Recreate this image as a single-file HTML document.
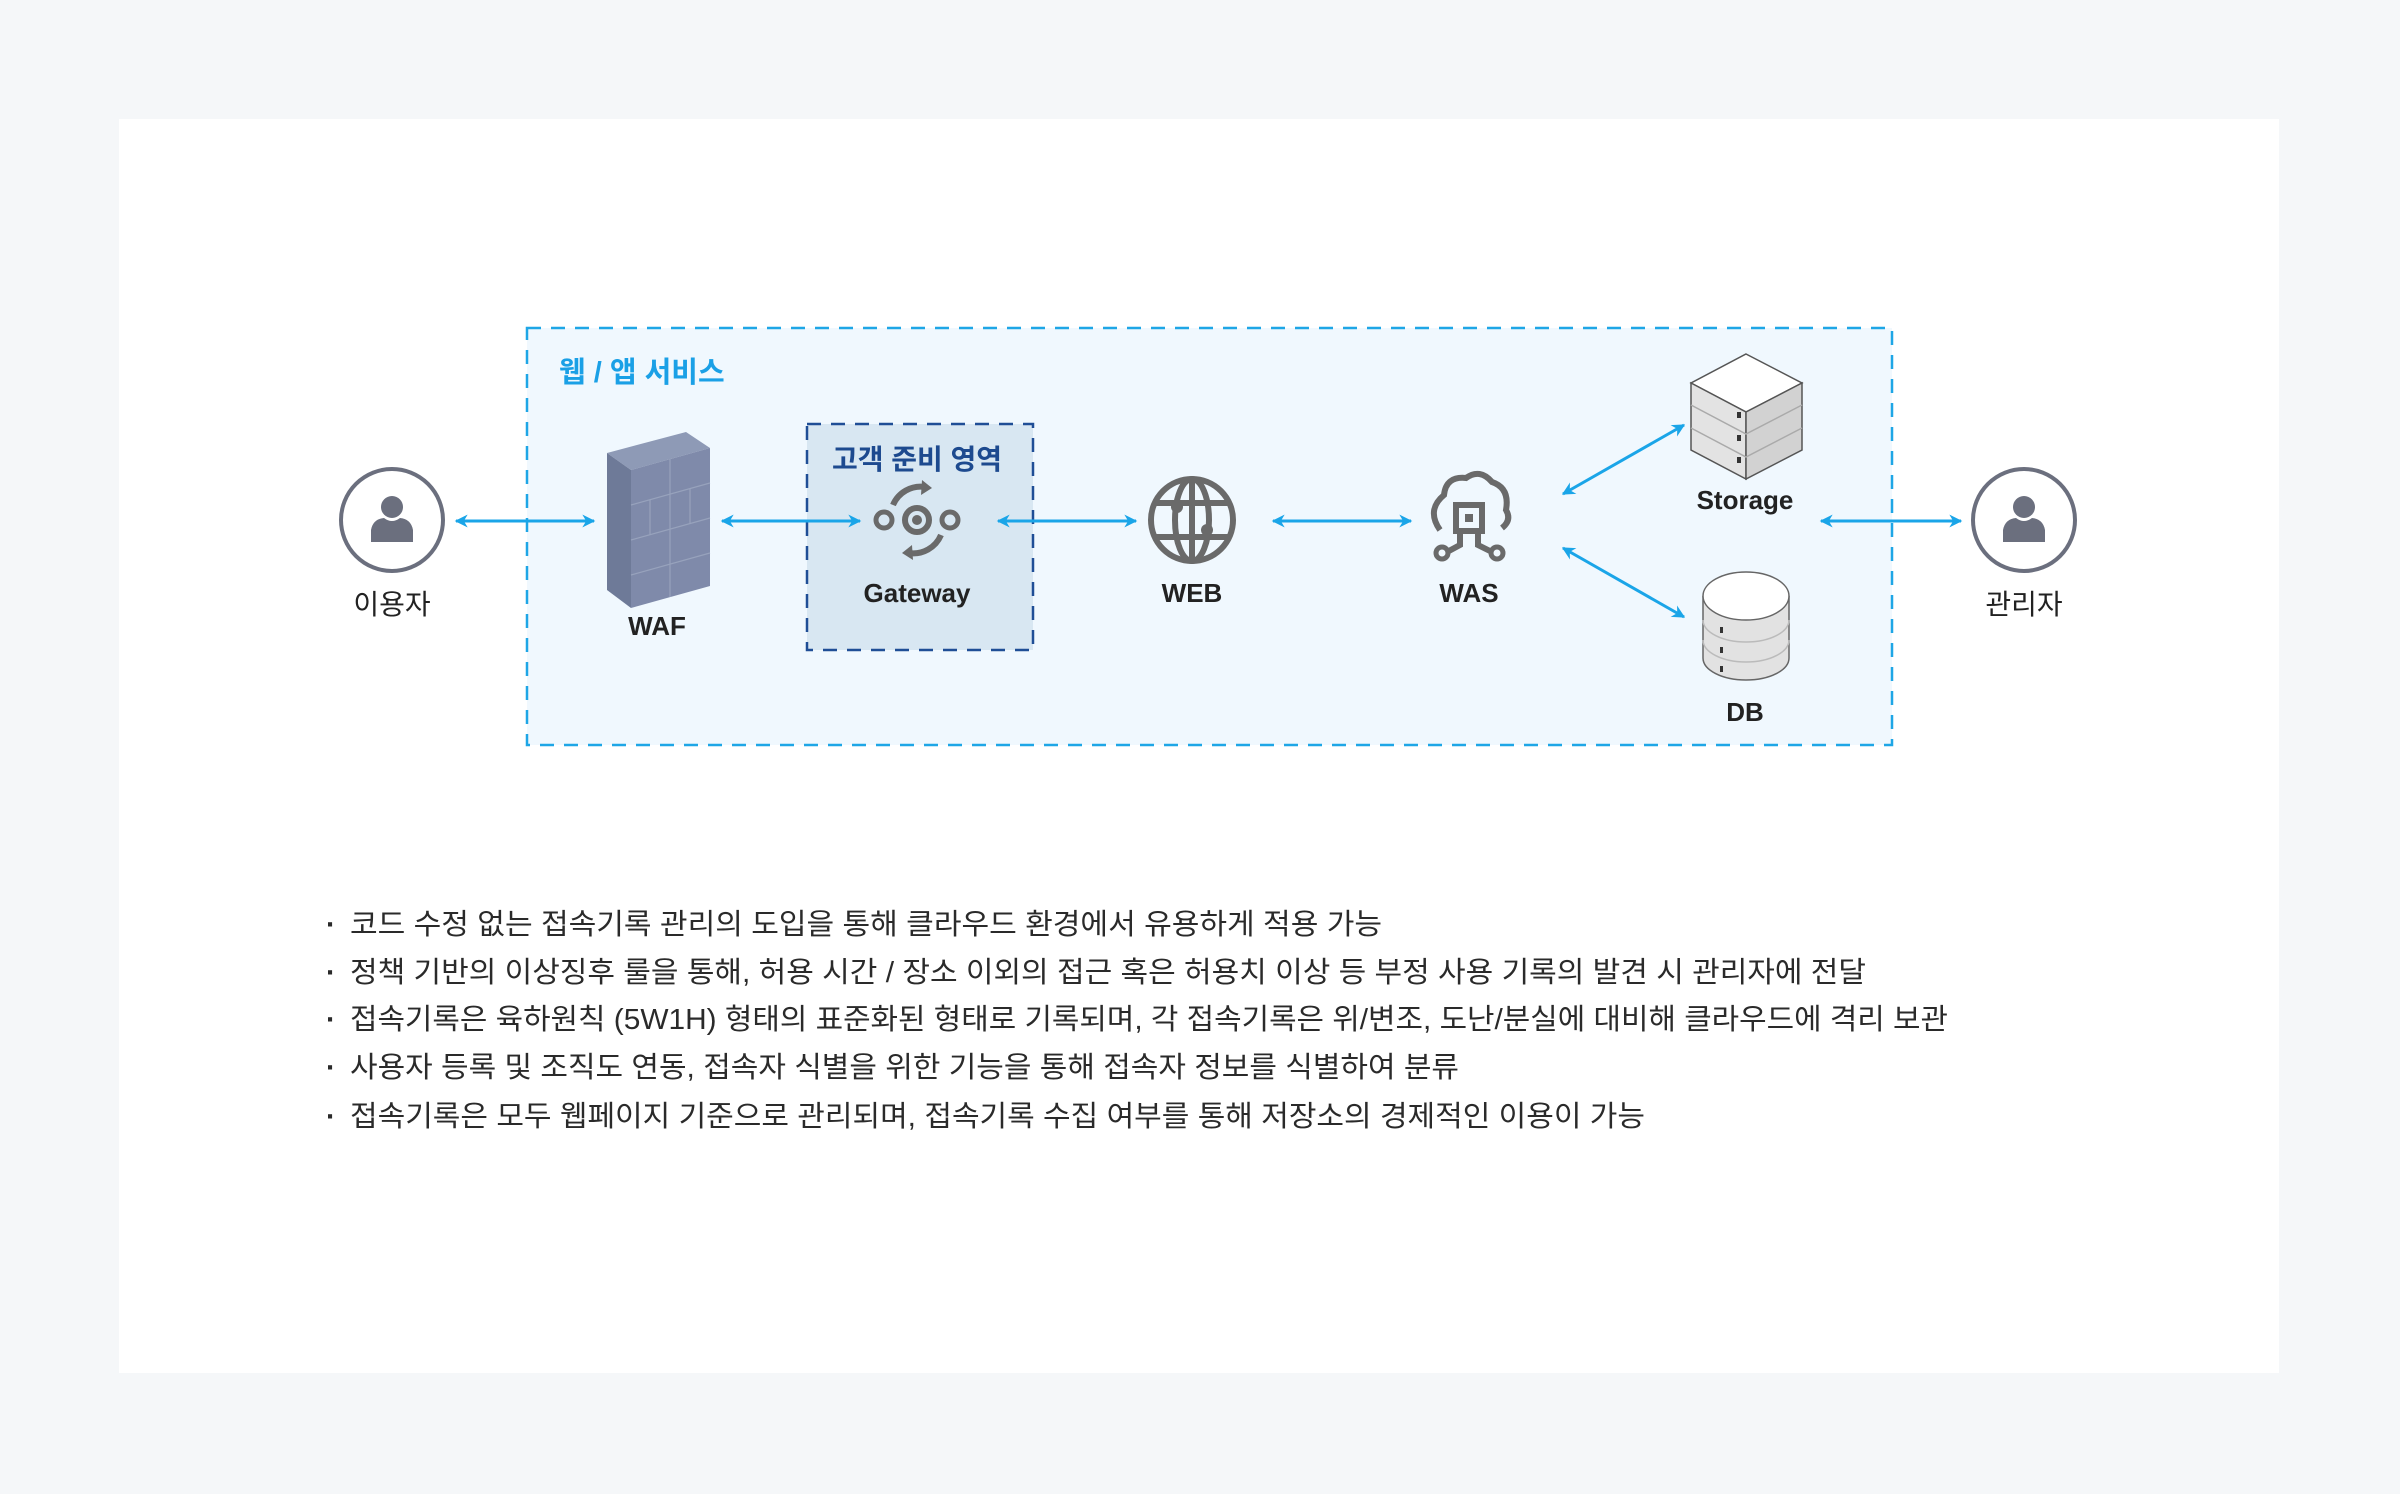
<!DOCTYPE html>
<html><head><meta charset="utf-8"><style>
html,body{margin:0;padding:0;background:#f5f7f9;}
svg{display:block;}
text{font-family:"Liberation Sans","Noto Sans CJK KR",sans-serif;}
</style></head><body>
<svg width="2400" height="1494" viewBox="0 0 2400 1494" xmlns="http://www.w3.org/2000/svg">
<defs>
<marker id="ah" viewBox="0 0 10 10" refX="9" refY="5" markerWidth="13" markerHeight="16" orient="auto-start-reverse" markerUnits="userSpaceOnUse">
<path d="M0,0 L10,5 L0,10 L3,5 z" fill="#1aa5e8"/></marker>
</defs>
<rect width="2400" height="1494" fill="#f5f7f9"/>
<rect x="119" y="119" width="2160" height="1254" fill="#ffffff"/>
<rect x="527" y="328" width="1365" height="417" fill="#f0f8fe" stroke="#1ea6e6" stroke-width="2.5" stroke-dasharray="14,10"/>
<text x="559" y="382" font-size="29" fill="#1aa0e6" font-weight="bold">웹 / 앱 서비스</text>
<rect x="807" y="424" width="226" height="226" fill="#d8e7f2" stroke="#1f4e96" stroke-width="2.5" stroke-dasharray="14,10"/>
<text x="917" y="469" font-size="28" fill="#1d4a8f" font-weight="bold" text-anchor="middle">고객 준비 영역</text>

<g stroke="#1aa5e8" stroke-width="3" fill="none" marker-start="url(#ah)" marker-end="url(#ah)">
<line x1="456" y1="521" x2="594" y2="521"/>
<line x1="722" y1="521" x2="860" y2="521"/>
<line x1="998" y1="521" x2="1136" y2="521"/>
<line x1="1273" y1="521" x2="1411" y2="521"/>
<line x1="1821" y1="521" x2="1961" y2="521"/>
<line x1="1563" y1="494" x2="1684" y2="425"/>
<line x1="1563" y1="548" x2="1684" y2="617"/>
</g>

<g>
<circle cx="392" cy="520" r="51" fill="#fff" stroke="#6b6f7e" stroke-width="4"/>
<circle cx="392" cy="507" r="11" fill="#6b6f7e"/>
<path d="M371,542 L371,530 Q373,519 384,518 Q392,524 400,518 Q411,519 413,530 L413,542 z" fill="#6b6f7e"/>
<circle cx="2024" cy="520" r="51" fill="#fff" stroke="#6b6f7e" stroke-width="4"/>
<circle cx="2024" cy="507" r="11" fill="#6b6f7e"/>
<path d="M2003,542 L2003,530 Q2005,519 2016,518 Q2024,524 2032,518 Q2043,519 2045,530 L2045,542 z" fill="#6b6f7e"/>
</g>
<text x="392" y="614" font-size="28" fill="#222" text-anchor="middle">이용자</text>
<text x="2024" y="614" font-size="28" fill="#222" text-anchor="middle">관리자</text>

<g>
<polygon points="607,453 686,432 710,448 631,470" fill="#8e9ab6"/>
<polygon points="607,453 631,470 631,608 607,590" fill="#6e7a98"/>
<polygon points="631,470 710,448 710,586 631,608" fill="#7f8aaa"/>
<g stroke="#97a2bc" stroke-width="1.2" fill="none">
<line x1="631" y1="505" x2="710" y2="483"/><line x1="631" y1="540" x2="710" y2="518"/><line x1="631" y1="575" x2="710" y2="553"/>
<line x1="670" y1="459" x2="670" y2="597"/><line x1="650" y1="500" x2="650" y2="535"/><line x1="690" y1="489" x2="690" y2="524"/>
</g>
</g>
<text x="657" y="635" font-size="26" fill="#222" font-weight="bold" text-anchor="middle">WAF</text>

<g fill="none" stroke="#6a6a6a" stroke-width="6">
<circle cx="917" cy="520" r="12"/>
<path d="M893,505 A30,30 0 0 1 925,487"/>
<path d="M941,535 A30,30 0 0 1 909,553"/>
</g>
<circle cx="917" cy="520" r="5" fill="#6a6a6a"/>
<circle cx="884" cy="520" r="8" fill="none" stroke="#6a6a6a" stroke-width="5"/>
<circle cx="950" cy="520" r="8" fill="none" stroke="#6a6a6a" stroke-width="5"/>
<polygon points="922,480 932,488 921,495" fill="#6a6a6a"/>
<polygon points="912,545 902,553 913,560" fill="#6a6a6a"/>
<text x="917" y="602" font-size="26" fill="#222" font-weight="bold" text-anchor="middle">Gateway</text>

<g fill="none" stroke="#6a6a6a" stroke-width="6">
<circle cx="1192" cy="520" r="41"/>
<ellipse cx="1192" cy="520" rx="17" ry="41"/>
<line x1="1192" y1="479" x2="1192" y2="561"/>
<line x1="1155" y1="503" x2="1229" y2="503"/>
<line x1="1155" y1="537" x2="1229" y2="537"/>
</g>
<circle cx="1177" cy="507" r="6" fill="#6a6a6a"/><circle cx="1207" cy="530" r="6" fill="#6a6a6a"/>
<text x="1192" y="602" font-size="26" fill="#222" font-weight="bold" text-anchor="middle">WEB</text>

<g fill="none" stroke="#6a6a6a" stroke-width="6">
<path d="M1440,530 Q1426,510 1444,495 Q1446,476 1466,478 Q1480,468 1492,482 Q1510,488 1506,510 Q1512,520 1502,528"/>
<rect x="1456" y="505" width="26" height="26"/>
<path d="M1460,531 L1460,545 L1447,552 M1478,531 L1478,545 L1492,552"/>
</g>
<circle cx="1442" cy="553" r="6" fill="none" stroke="#6a6a6a" stroke-width="5"/>
<circle cx="1497" cy="553" r="6" fill="none" stroke="#6a6a6a" stroke-width="5"/>
<rect x="1465" y="514" width="8" height="8" fill="#6a6a6a"/>
<text x="1469" y="602" font-size="26" fill="#222" font-weight="bold" text-anchor="middle">WAS</text>

<g stroke="#555" stroke-width="1.5">
<polygon points="1746,354 1802,383 1746,412 1691,383" fill="#fff"/>
<polygon points="1691,383 1746,412 1746,479 1691,450" fill="#e3e3e3"/>
<polygon points="1746,412 1802,383 1802,450 1746,479" fill="#d2d2d2"/>
<path d="M1691,405 L1746,434 L1802,405 M1691,428 L1746,457 L1802,428" fill="none" stroke="#aaa"/>
</g>
<g fill="#333"><rect x="1737" y="412" width="4" height="6"/><rect x="1737" y="435" width="4" height="6"/><rect x="1737" y="457" width="4" height="6"/></g>
<text x="1745" y="509" font-size="26" fill="#222" font-weight="bold" text-anchor="middle">Storage</text>

<g stroke="#666" stroke-width="1.5">
<path d="M1703,596 L1703,658 A43,22 0 0 0 1789,658 L1789,596" fill="#e2e2e2"/>
<path d="M1703,620 A43,22 0 0 0 1789,620 M1703,640 A43,22 0 0 0 1789,640" fill="none" stroke="#bbb"/>
<ellipse cx="1746" cy="596" rx="43" ry="24" fill="#fff"/>
</g>
<g fill="#333"><rect x="1720" y="627" width="3" height="6"/><rect x="1720" y="647" width="3" height="6"/><rect x="1720" y="666" width="3" height="6"/></g>
<text x="1745" y="721" font-size="26" fill="#222" font-weight="bold" text-anchor="middle">DB</text>

<g font-size="29" fill="#2a2a2a">
<text x="326" y="934" font-weight="bold">·</text><text x="326" y="982" font-weight="bold">·</text><text x="326" y="1029" font-weight="bold">·</text><text x="326" y="1077" font-weight="bold">·</text><text x="326" y="1126" font-weight="bold">·</text>
<text x="350" y="934" textLength="1032" lengthAdjust="spacingAndGlyphs">코드 수정 없는 접속기록 관리의 도입을 통해 클라우드 환경에서 유용하게 적용 가능</text>
<text x="350" y="982" textLength="1516" lengthAdjust="spacingAndGlyphs">정책 기반의 이상징후 룰을 통해, 허용 시간 / 장소 이외의 접근 혹은 허용치 이상 등 부정 사용 기록의 발견 시 관리자에 전달</text>
<text x="350" y="1029" textLength="1598" lengthAdjust="spacingAndGlyphs">접속기록은 육하원칙 (5W1H) 형태의 표준화된 형태로 기록되며, 각 접속기록은 위/변조, 도난/분실에 대비해 클라우드에 격리 보관</text>
<text x="350" y="1077" textLength="1109" lengthAdjust="spacingAndGlyphs">사용자 등록 및 조직도 연동, 접속자 식별을 위한 기능을 통해 접속자 정보를 식별하여 분류</text>
<text x="350" y="1126" textLength="1295" lengthAdjust="spacingAndGlyphs">접속기록은 모두 웹페이지 기준으로 관리되며, 접속기록 수집 여부를 통해 저장소의 경제적인 이용이 가능</text>
</g>
</svg>
</body></html>
